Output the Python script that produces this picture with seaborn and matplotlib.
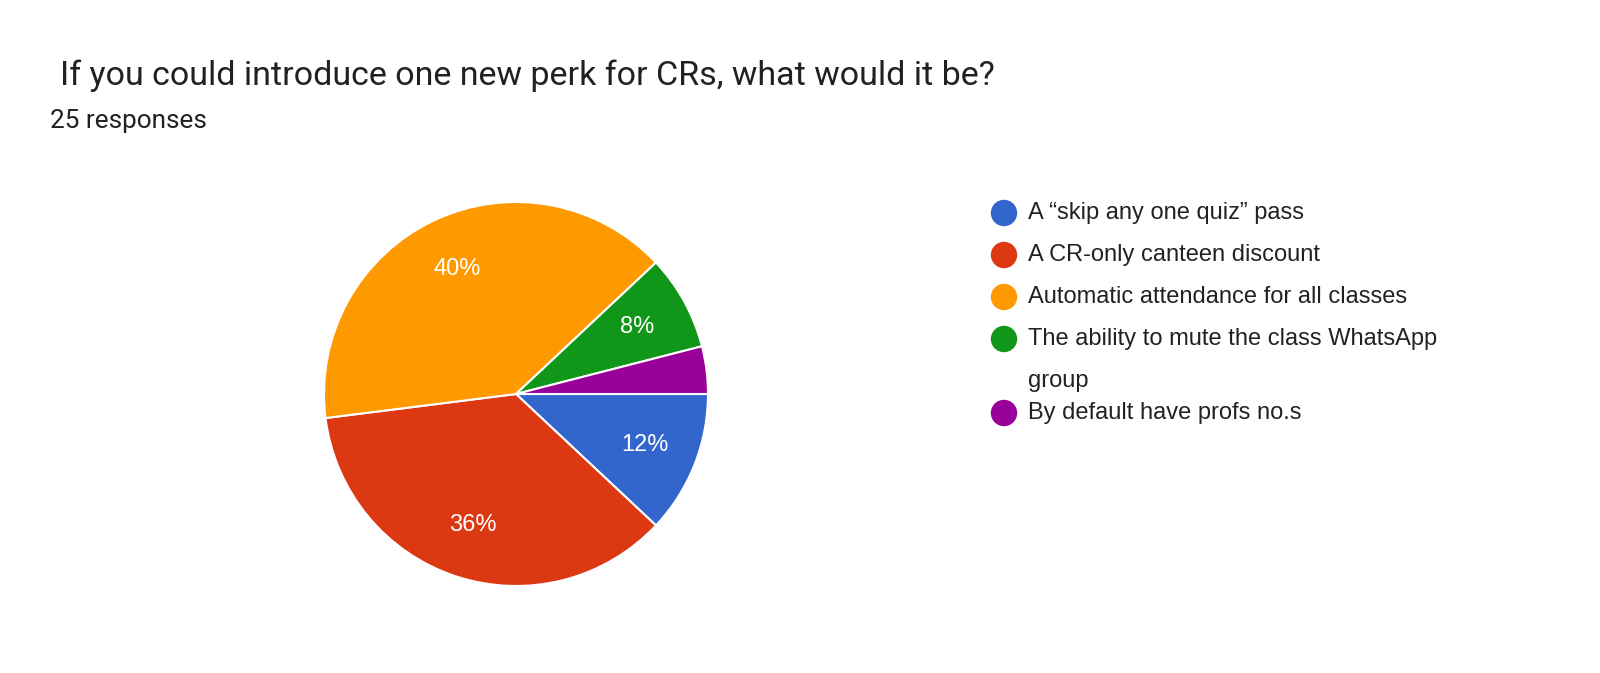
import matplotlib
matplotlib.use("Agg")
import matplotlib.pyplot as plt
import seaborn as sns

# ------------------------------
# Data (25 responses)
# ------------------------------
options = [
    "A \u201cskip any one quiz\u201d pass",
    "A CR-only canteen discount",
    "Automatic attendance for all classes",
    "The ability to mute the class WhatsApp\ngroup",
    "By default have profs no.s",
]
counts = [3, 9, 10, 2, 1]
colors = ["#3366CC", "#DC3912", "#FF9900", "#109618", "#990099"]

title = "If you could introduce one new perk for CRs, what would it be?"
subtitle = f"{sum(counts)} responses"

sns.set_theme(style="white")
plt.rcParams["font.family"] = ["Liberation Sans", "DejaVu Sans"]

W, H = 1600, 673
fig = plt.figure(figsize=(16, 6.73), dpi=100)
fig.patch.set_facecolor("white")

# pie axes: centre (516, 394) px, radius 192 px
cx, cy, r = 516, 394, 192
ax = fig.add_axes([(cx - r) / W, (H - cy - r) / H, 2 * r / W, 2 * r / H])


def pct_label(p):
    return f"{p:.0f}%" if p >= 5 else ""


wedges, texts, autotexts = ax.pie(
    counts,
    colors=colors,
    startangle=0,
    counterclock=False,
    autopct=pct_label,
    pctdistance=0.72,
    radius=1,
    wedgeprops={"edgecolor": "white", "linewidth": 1.5},
    textprops={"color": "white", "fontsize": 17},
)
ax.set_xlim(-1, 1)
ax.set_ylim(-1, 1)
ax.set_aspect("equal")
ax.axis("off")

# titles
fig.text(60 / W, 1 - 76 / H, title, fontsize=24.5, family=["Roboto", "DejaVu Sans"],
         color="#202124", va="center", ha="left")
fig.text(50 / W, 1 - 121 / H, subtitle, fontsize=18.8, family=["Roboto", "DejaVu Sans"],
         color="#202124", va="center", ha="left")

# legend drawn by hand
lax = fig.add_axes([0, 0, 1, 1])
lax.set_xlim(0, W)
lax.set_ylim(H, 0)
lax.axis("off")
row_y = [213, 255, 297, 339, 413]
for lab, col, y in zip(options, colors, row_y):
    lax.scatter([1004], [y], s=19 ** 2, color=col, edgecolor="none")
    for i, line in enumerate(lab.split("\n")):
        lax.text(1028, y + 42 * i, line, fontsize=17, color="#222222", va="center",
                 ha="left")

fig.savefig("out.png", dpi=100, facecolor="white")
